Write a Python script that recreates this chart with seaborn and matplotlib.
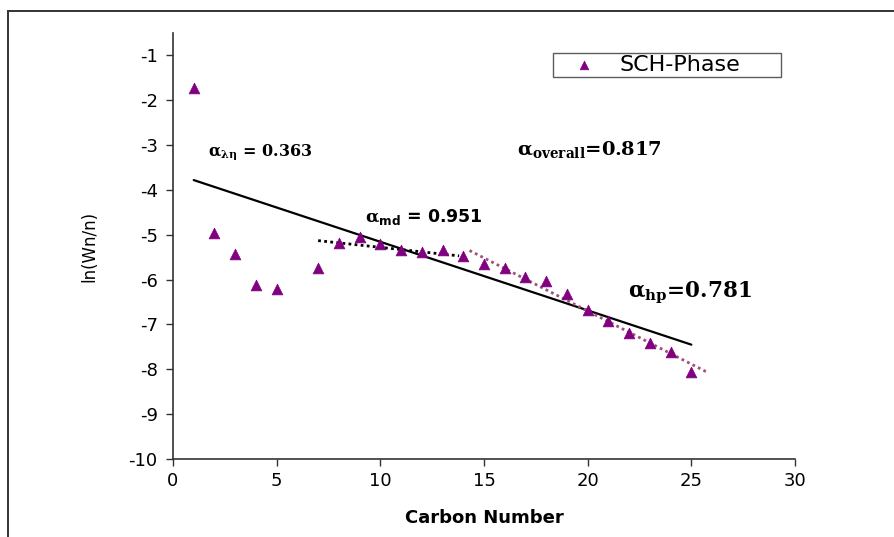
import matplotlib
matplotlib.use("Agg")
import matplotlib.pyplot as plt
import seaborn as sns
import pandas as pd
from matplotlib.patches import Rectangle

# Carbon number distribution of the SCH phase
carbon_number = [1, 2, 3, 4, 5, 7, 8, 9, 10, 11, 12, 13, 14, 15, 16, 17, 18, 19, 20, 21, 22, 23, 24, 25]
ln_wn_n = [-1.72, -4.97, -5.42, -6.12, -6.20, -5.73, -5.18, -5.06, -5.20, -5.35, -5.39, -5.35, -5.47,
           -5.65, -5.74, -5.95, -6.02, -6.31, -6.67, -6.92, -7.19, -7.42, -7.62, -8.07]

# Fitted trend lines (end points in carbon number / ln(Wn/n))
overall_x = [1, 25]
overall_y = [-3.78, -7.45]
md_x = [7, 13.8]
md_y = [-5.13, -5.47]
hp_x = [14.3, 25.7]
hp_y = [-5.35, -8.05]

x_ticks = [0, 5, 10, 15, 20, 25, 30]
y_ticks = [-1, -2, -3, -4, -5, -6, -7, -8, -9, -10]

sns.set_theme(style="white")
plt.rcParams["font.family"] = ["DejaVu Sans"]
plt.rcParams["text.color"] = "black"
plt.rcParams["axes.labelcolor"] = "black"
plt.rcParams["xtick.color"] = "black"
plt.rcParams["ytick.color"] = "black"
plt.rcParams["mathtext.fontset"] = "custom"
plt.rcParams["mathtext.rm"] = "DejaVu Serif"
plt.rcParams["mathtext.bf"] = "DejaVu Serif:bold"
plt.rcParams["mathtext.sf"] = "DejaVu Sans:bold"

fig = plt.figure(figsize=(8.95, 5.37), dpi=100)
ax = fig.add_axes([173 / 895, 1 - 459 / 537, (795 - 173) / 895, (459 - 33) / 537])

# outer chart frame
fig.patches.append(Rectangle((8 / 895, -0.05), 1.0, 1 - 11 / 537 + 0.05,
                             transform=fig.transFigure, fill=False,
                             edgecolor="#333333", linewidth=1.4))

df = pd.DataFrame({"Carbon Number": carbon_number, "ln(Wn/n)": ln_wn_n})

sns.lineplot(x=overall_x, y=overall_y, ax=ax, color="black", linewidth=1.6)
sns.lineplot(x=md_x, y=md_y, ax=ax, color="black", linewidth=2.0, linestyle=(0, (1, 1.2)))
sns.lineplot(x=hp_x, y=hp_y, ax=ax, color="#a0507a", linewidth=2.0, linestyle=(0, (1, 1.2)))
sns.scatterplot(data=df, x="Carbon Number", y="ln(Wn/n)", ax=ax, marker="^", s=60,
                color="#800080", edgecolor="#800080", linewidth=0.5, label="SCH-Phase", zorder=5)

ax.set_xlim(0, 30)
ax.set_ylim(-10, -0.5)
ax.set_xticks(x_ticks)
ax.set_yticks(y_ticks)
ax.set_xticklabels([str(v) for v in x_ticks], fontsize=13)
ax.set_yticklabels([str(v) for v in y_ticks], fontsize=13)
ax.tick_params(axis="x", direction="out", length=5, width=1, color="#333333", pad=4,
               bottom=True, labelcolor="black")
ax.tick_params(axis="y", direction="out", length=5, width=1, color="#333333", pad=6,
               left=True, labelcolor="black")
for side in ["top", "right"]:
    ax.spines[side].set_visible(False)
for side in ["left", "bottom"]:
    ax.spines[side].set_color("#333333")
    ax.spines[side].set_linewidth(1.2)

ax.set_xlabel("Carbon Number", fontsize=13, fontweight="bold", labelpad=14, color="black")
ax.set_ylabel("ln(Wn/n)", fontsize=12, labelpad=22, color="black")

# slope annotations
ax.text(1.7, -3.15, r"$\mathbf{\alpha_{\lambda\eta}}$ = 0.363", fontsize=11.5,
        fontfamily="DejaVu Serif", fontweight="bold", va="center", color="black")
ax.text(16.6, -3.1, r"$\mathbf{\alpha_{overall}}$=0.817", fontsize=14,
        fontfamily="DejaVu Serif", fontweight="bold", va="center", color="black")
ax.text(9.26, -4.6, r"$\mathbf{\alpha}_{\mathsf{md}}$ = 0.951", fontsize=12.5,
        fontfamily="DejaVu Sans", fontweight="bold", va="center", color="black")
ax.text(21.95, -6.3, r"$\mathbf{\alpha_{hp}}$=0.781", fontsize=15.5,
        fontfamily="DejaVu Serif", fontweight="bold", va="center", color="black")

leg = ax.legend(loc="upper left", bbox_to_anchor=(0.611, 0.953, 0.367, 0.0),
                mode="expand", borderaxespad=0, frameon=True, fancybox=False,
                fontsize=16, handletextpad=0.3, borderpad=0.1, markerscale=0.8,
                handlelength=2.6)
leg.get_frame().set_edgecolor("#333333")
leg.get_frame().set_linewidth(1.0)
for t in leg.get_texts():
    t.set_color("black")

fig.savefig("out.png", dpi=100)
